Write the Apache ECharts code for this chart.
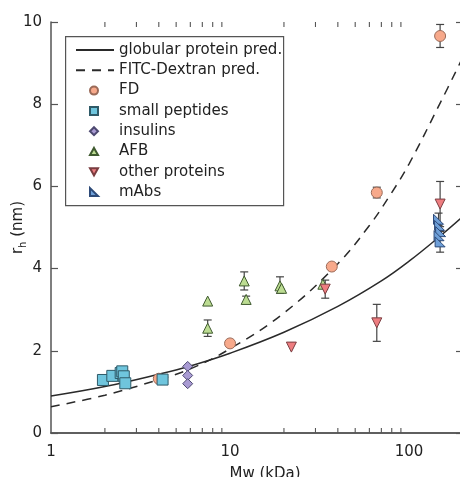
<!DOCTYPE html>
<html><head><meta charset="utf-8">
<script src="https://cdn.jsdelivr.net/npm/echarts@6/dist/echarts.min.js"></script>
<style>html,body{margin:0;padding:0;background:#fff}#c{width:460px;height:477px}</style>
</head><body><div id="c"></div>
<script>
// ---- data ----
const globularPred = [[1,0.90],[2,1.13],[4,1.43],[6,1.63],[10,1.94],[20,2.45],[40,3.08],[70,3.70],[100,4.18],[150,4.80],[200,5.27]];
const dextranPred = [[1,0.64],[2,0.92],[4,1.30],[6,1.56],[10,2.05],[20,2.92],[40,4.12],[60,5.05],[80,5.85],[100,6.55],[150,8.05],[200,9.15]];
const fd = [[4.0,1.32],[10,2.18],[37,4.05],[66,5.85],[149,9.66]];
const smallPeptides = [[1.95,1.29],[2.2,1.39],[2.45,1.46],[2.5,1.50],[2.55,1.38],[2.6,1.21],[4.2,1.30]];
const insulins = [[5.8,1.62],[5.8,1.40],[5.8,1.20]];
const afb = [[7.5,3.21],[7.5,2.55],[12,3.70],[12.3,3.25],[19,3.58],[19.4,3.52],[33,3.62]];
const otherProteins = [[22,2.09],[34,3.50],[66,2.68],[149,5.57]];
const mAbs = [[146,5.20],[148,5.05],[150,4.90],[147,4.80],[149,4.65]];
// error bars: [Mw, low, high]
const errorBars = [[66,5.72,5.98],[149,9.38,9.94],[7.5,2.35,2.75],[12,3.48,3.92],[12.3,3.17,3.33],[19,3.40,3.80],
  [34,3.28,3.72],[66,2.23,3.13],[149,5.02,6.12],[146,5.05,5.35],[149,4.40,4.90]];
const minorTicks = [2,3,4,5,6,7,8,9,20,30,40,50,60,70,80,90];
const xTicks = [1,10,100];
const yTicks = [0,2,4,6,8,10];
const lineNames = ['globular protein pred.','FITC-Dextran pred.'];
const markerNames = ['FD','small peptides','insulins','AFB','other proteins','mAbs'];

const FONT = 'DejaVu Sans';
const AX = '#555';
const TXT = '#222';
const TRI_UP = 'path://M5,0 L10,9 L0,9 Z';
const TRI_DOWN = 'path://M0,0 L10,0 L5,9 Z';
const RIGHT_TRI = 'path://M0,0 L0,10 L10,10 Z';
const chart = echarts.init(document.getElementById('c'), null, {renderer:'canvas'});

function mkScatter(name, data, symbol, size, fill, border) {
  return {
    name, type:'scatter', data, symbol, symbolSize:size, z:5,
    itemStyle:{color:fill, borderColor:border, borderWidth:1, opacity:1}
  };
}

const option = {
  animation:false,
  graphic:[{
    type:'rect', left:65, top:36, z:0,
    shape:{width:218, height:169},
    style:{fill:'#fff', stroke:'#555', lineWidth:1.2}
  }],
  grid:{left:51, top:22, right:-3, bottom:44, containLabel:false, outerBoundsMode:'none'},
  legend:[{
    orient:'vertical', left:75, top:40, padding:0,
    itemGap:0.3, itemWidth:38, itemHeight:8,
    itemStyle:{opacity:0},
    textStyle:{fontFamily:FONT, fontSize:15, color:TXT, lineHeight:20},
    data:lineNames
  },{
    orient:'vertical', left:89, top:80.6, padding:0,
    itemGap:0.3, itemWidth:8, itemHeight:8,
    textStyle:{fontFamily:FONT, fontSize:15, color:TXT, lineHeight:20, padding:[0,0,0,16]},
    data:markerNames
  }],
  xAxis:[{
    type:'log', min:1, max:200, logBase:10,
    name:'Mw (kDa)', nameLocation:'middle', nameGap:34, nameMoveOverlap:false,
    nameTextStyle:{fontFamily:FONT, fontSize:15, color:TXT, padding:[0,0,0,16]},
    axisLine:{show:true, lineStyle:{color:AX, width:1.5}},
    axisTick:{show:false},
    axisLabel:{fontFamily:FONT, fontSize:15, color:TXT, margin:12,
      formatter:v => xTicks.indexOf(v) >= 0 ? String(v) : ''},
    splitLine:{show:false}
  },{
    type:'log', min:1, max:200, position:'top',
    axisLine:{show:true, lineStyle:{color:AX, width:1.5}},
    axisTick:{show:false}, axisLabel:{show:false}, splitLine:{show:false}
  }],
  yAxis:[{
    type:'value', min:0, max:10, interval:2,
    name:'{a|r}{b|h}{a| (nm)}', nameLocation:'middle', nameGap:23, nameRotate:90, nameMoveOverlap:false,
    nameTextStyle:{rich:{
      a:{fontFamily:FONT, fontSize:15, color:TXT, lineHeight:20},
      b:{fontFamily:FONT, fontSize:10, color:TXT, lineHeight:20, verticalAlign:'bottom', padding:[6,0,0,0]}
    }},
    axisLine:{show:true, lineStyle:{color:AX, width:1.5}},
    axisTick:{show:true, inside:true, length:7, lineStyle:{color:AX, width:1.2}},
    axisLabel:{fontFamily:FONT, fontSize:15, color:TXT, margin:9,
      formatter:v => yTicks.indexOf(v) >= 0 ? String(v) : ''},
    splitLine:{show:false}
  },{
    type:'value', min:0, max:10, interval:2, position:'right',
    axisLine:{show:true, lineStyle:{color:AX, width:1.5}},
    axisTick:{show:true, inside:true, length:7, lineStyle:{color:AX, width:1.2}},
    axisLabel:{show:false}, splitLine:{show:false}
  }],
  series:[
    {
      name:'minor ticks', type:'custom', silent:true, z:1,
      data: minorTicks.map(v => [v, 0, 10]),
      encode:{x:0, y:[1,2]},
      renderItem:(params, api) => {
        const b = api.coord([api.value(0), 0]);
        const t = api.coord([api.value(0), 10]);
        const st = {stroke:AX, lineWidth:1.1};
        return {type:'group', children:[
          {type:'line', shape:{x1:b[0], y1:b[1], x2:b[0], y2:b[1]-5}, style:st},
          {type:'line', shape:{x1:t[0], y1:t[1], x2:t[0], y2:t[1]+5}, style:st}
        ]};
      }
    },
    {
      name:'globular protein pred.', type:'line', data:globularPred, smooth:0.4, symbol:'none', z:3,
      lineStyle:{color:'#2a2a2a', width:1.5}, itemStyle:{color:'#2a2a2a'}
    },
    {
      name:'FITC-Dextran pred.', type:'line', data:dextranPred, smooth:0.4, symbol:'none', z:3,
      lineStyle:{color:'#2a2a2a', width:1.5, type:[9,7]}, itemStyle:{color:'#2a2a2a'}
    },
    {
      name:'error bars', type:'custom', silent:true, z:4,
      data:errorBars, encode:{x:0, y:[1,2]},
      renderItem:(params, api) => {
        const lo = api.coord([api.value(0), api.value(1)]);
        const hi = api.coord([api.value(0), api.value(2)]);
        const st = {stroke:'#444', lineWidth:1.2};
        const w = 4;
        return {type:'group', children:[
          {type:'line', shape:{x1:lo[0], y1:lo[1], x2:hi[0], y2:hi[1]}, style:st},
          {type:'line', shape:{x1:lo[0]-w, y1:lo[1], x2:lo[0]+w, y2:lo[1]}, style:st},
          {type:'line', shape:{x1:hi[0]-w, y1:hi[1], x2:hi[0]+w, y2:hi[1]}, style:st}
        ]};
      }
    },
    mkScatter('FD', fd, 'circle', 11, '#f7a98b', '#9a6a58'),
    mkScatter('small peptides', smallPeptides, 'rect', 11, '#6fc5dd', '#2f5a68'),
    mkScatter('insulins', insulins, 'diamond', 10, '#a99bd3', '#4c4870'),
    mkScatter('AFB', afb, TRI_UP, 10, '#bcdc92', '#3f5a2f'),
    mkScatter('other proteins', otherProteins, TRI_DOWN, 10, '#ee7d80', '#7a3d40'),
    mkScatter('mAbs', mAbs, RIGHT_TRI, 10, '#6e9fd8', '#2d4a78')
  ]
};
chart.setOption(option);
</script>
</body></html>
